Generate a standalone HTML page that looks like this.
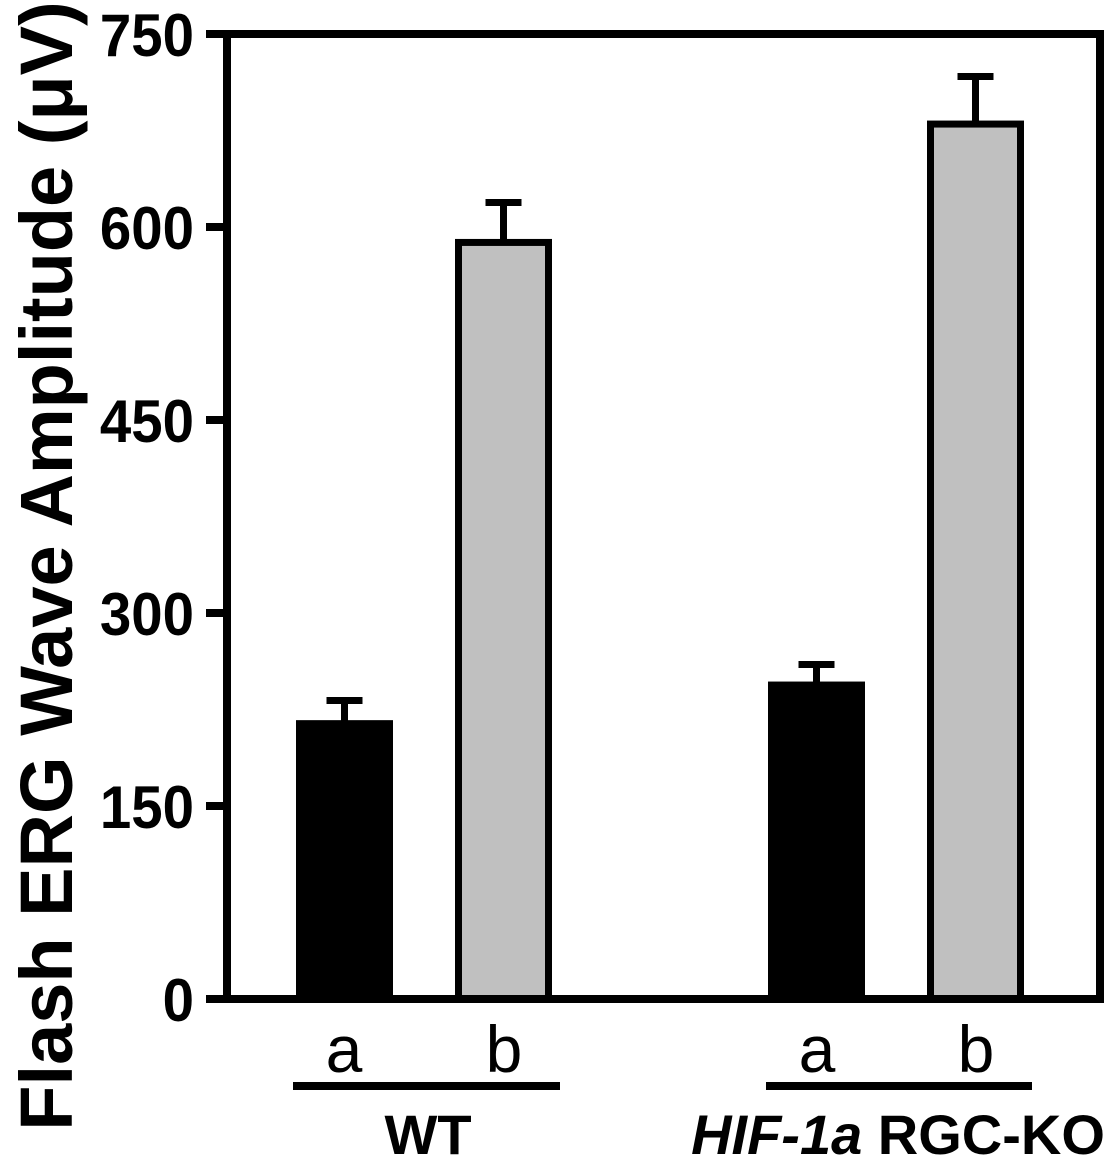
<!DOCTYPE html>
<html><head><meta charset="utf-8"><style>body{margin:0;background:#fff}svg{display:block}text{font-family:"Liberation Sans",Arial,sans-serif}</style></head>
<body>
<svg id="chart" width="1114" height="1158" viewBox="0 0 1114 1158"></svg>
<script>
const categories = ["WT a","WT b","KO a","KO b"];
const values = [214, 588, 244, 680];
const errors = [18, 31, 16, 37];
const fills = ["#000","#c0c0c0","#000","#c0c0c0"];
const tickValues = [0,150,300,450,600,750];
const barLeft = [296,455,768,927];
const svg = document.getElementById('chart');
const NS = 'http://www.w3.org/2000/svg';
const y0 = 999, y1 = 34, vmax = 750;
function y(v){ return y0 - (v / vmax) * (y0 - y1); }
function mk(tag, attrs, parent){ const e = document.createElementNS(NS, tag); for (const k in attrs) e.setAttribute(k, attrs[k]); (parent||svg).appendChild(e); return e; }
categories.forEach((c,i)=>{
  const x = barLeft[i], w = 97;
  const top = y(values[i]), et = y(values[i]+errors[i]);
  const cx = x + w/2;
  const el = mk('line',{x1:cx,x2:cx,y1:top,y2:et,stroke:'#000','stroke-width':7});
  
  
  const cap = mk('line',{x1:cx-18,x2:cx+18,y1:et,y2:et,stroke:'#000','stroke-width':7});
  
  
  const r = mk('rect',{x:x+3.5,y:top,width:w-7,height:y0-top,fill:fills[i],stroke:'#000','stroke-width':7});
  
  
});
const f = mk('path',{d:'M227 999 V34 H1100 V999 H208',fill:'none',stroke:'#000','stroke-width':8});


tickValues.forEach(v=>{
  const t = mk('line',{x1:206,x2:227,y1:y(v),y2:y(v),stroke:'#000','stroke-width':8});
  
  
  const l = mk('text',{x:194,y:y(v)+22,'text-anchor':'end','font-size':60,'font-weight':'bold',transform:'translate('+(194*0.06)+',0) scale(0.94,1)'});
  l.setAttribute('transform','translate(194,0) scale(0.94,1) translate(-194,0)');
  l.textContent = v;
  
  
});
</script>
<svg width="1114" height="1158" style="position:absolute;left:0;top:0">
<text x="344" y="1072" text-anchor="middle" font-size="66">a</text>
<text x="504" y="1072" text-anchor="middle" font-size="66">b</text>
<text x="817" y="1072" text-anchor="middle" font-size="66">a</text>
<text x="976" y="1072" text-anchor="middle" font-size="66">b</text>
<line x1="293" x2="560" y1="1086" y2="1086" stroke="#000" stroke-width="8"/>
<line x1="766" x2="1032" y1="1086" y2="1086" stroke="#000" stroke-width="8"/>
<text x="428" y="1154" text-anchor="middle" font-size="56" font-weight="bold">WT</text>
<text x="898" y="1154" text-anchor="middle" font-size="56" font-weight="bold"><tspan font-style="italic">HIF-1a</tspan> RGC-KO</text>
<text transform="translate(72,566) rotate(-90)" text-anchor="middle" font-size="74" font-weight="bold">Flash ERG Wave Amplitude (μV)</text>
</svg>
</body></html>
